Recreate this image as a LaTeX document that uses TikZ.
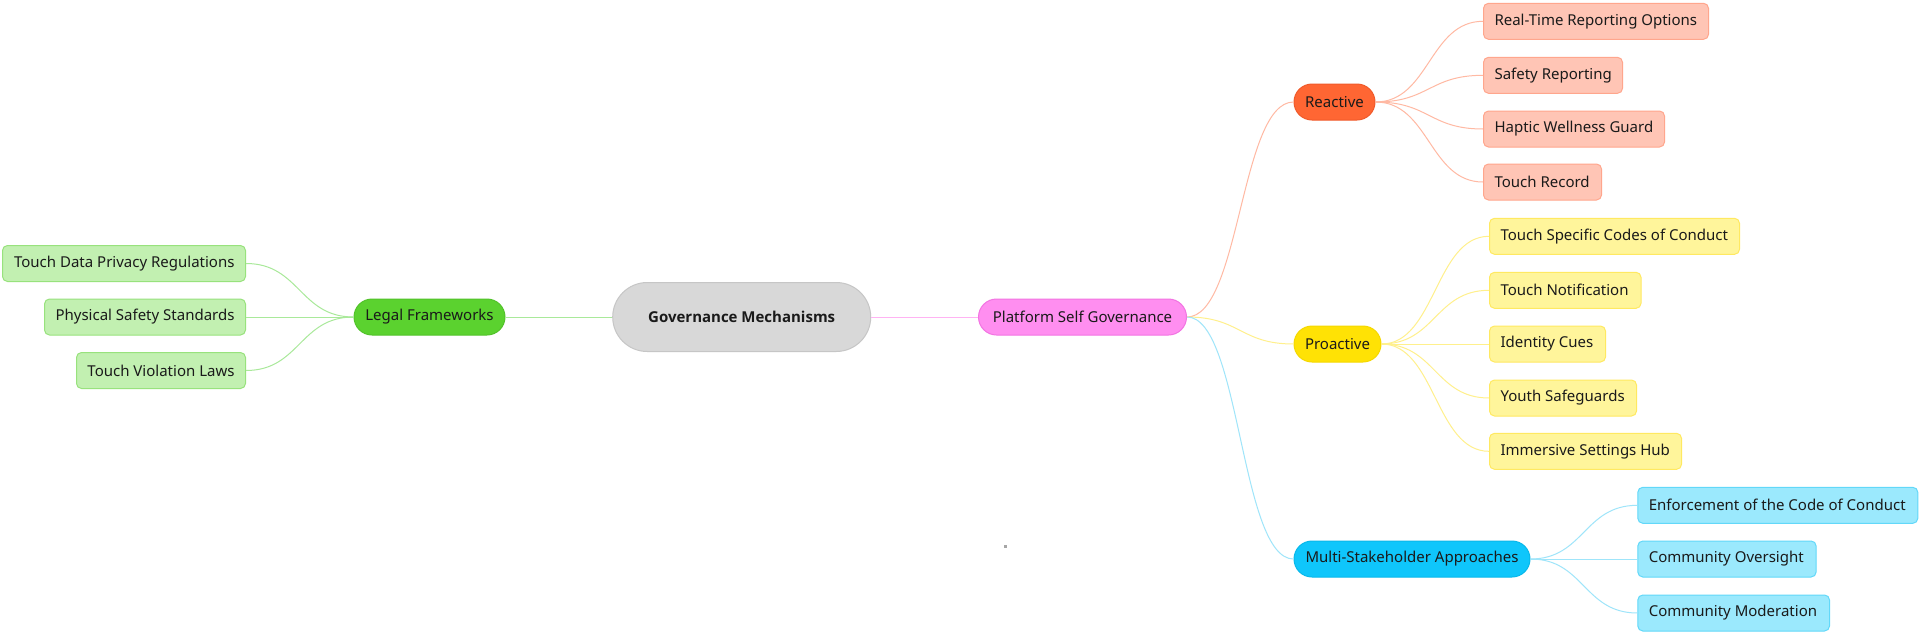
\documentclass[tikz,border=0pt]{standalone}
\usepackage{fontspec}
\setmainfont{Noto Sans}
\newfontfamily\gmfont{Open Sans}
\usetikzlibrary{calc}
\definecolor{txt}{HTML}{1A1A1A}
\definecolor{legalF}{HTML}{5BD22F}\definecolor{legalB}{HTML}{52C22A}
\definecolor{legalLF}{HTML}{C2F0B1}\definecolor{legalLB}{HTML}{98E27D}\definecolor{legalE}{HTML}{A9E99A}
\definecolor{centF}{HTML}{D8D8D8}\definecolor{centB}{HTML}{C6C6C6}
\definecolor{platF}{HTML}{FF8EF0}\definecolor{platB}{HTML}{F274E2}\definecolor{platE}{HTML}{FFB3F3}
\definecolor{reacF}{HTML}{FF6633}\definecolor{reacB}{HTML}{F05A2A}
\definecolor{reacLF}{HTML}{FFC5B5}\definecolor{reacLB}{HTML}{FFA68D}\definecolor{reacE}{HTML}{FFB9A3}
\definecolor{proF}{HTML}{FFE205}\definecolor{proB}{HTML}{F5D800}
\definecolor{proLF}{HTML}{FFF59B}\definecolor{proLB}{HTML}{FFE961}\definecolor{proE}{HTML}{FFF08C}
\definecolor{mulF}{HTML}{0FC6FB}\definecolor{mulB}{HTML}{08B8EA}
\definecolor{mulLF}{HTML}{9BE9FD}\definecolor{mulLB}{HTML}{62D8F9}\definecolor{mulE}{HTML}{9FE5FA}
\newcommand\curveconn[3]{\draw[#1] let \p1=(#2), \p2=(#3) in (\p1) .. controls ({(\x1+\x2)/2},\y1) and ({(\x1+\x2)/2},\y2) .. (\p2);}
\newcommand\lbox[2]{\makebox[#1pt][l]{#2}}
\newcommand\rbox[2]{\makebox[#1pt][r]{#2}}
\begin{document}
\begin{tikzpicture}[x=1pt,y=-1pt,
  box/.style={draw, line width=1pt, rounded corners=5pt, minimum height=36pt, inner ysep=0pt, inner xsep=11pt, font=\fontsize{15}{18}\selectfont, text=txt},
  rleaf/.style={box, anchor=west},
  lleaf/.style={box, anchor=east},
  pill/.style={box, rounded corners=18pt, inner xsep=0pt, align=center},
  edge/.style={line width=1pt}]
\useasboundingbox (0,0) rectangle (1920,635);
\fill[white] (0,0) rectangle (1920,635);

% center
\node[pill, rounded corners=34.5pt, minimum width=258pt, minimum height=69pt, fill=centF, draw=centB, font=\gmfont\fontsize{15}{18}\selectfont\bfseries] (gm) at (741.7,317) {Governance Mechanisms};

% legal
\node[pill, minimum width=151pt, fill=legalF, draw=legalB] (lf) at (429.5,317) {Legal Frameworks};
\node[lleaf, fill=legalLF, draw=legalLB] (l1) at (246,263.5) {\rbox{221}{Touch Data Privacy Regulations}};
\node[lleaf, fill=legalLF, draw=legalLB] (l2) at (246,317) {\rbox{179}{Physical Safety Standards}};
\node[lleaf, fill=legalLF, draw=legalLB] (l3) at (246,370.5) {\rbox{147}{Touch Violation Laws}};

% platform
\node[pill, minimum width=208pt, fill=platF, draw=platB] (ps) at (1082.5,317) {Platform Self Governance};

% reactive
\node[pill, minimum width=81pt, fill=reacF, draw=reacB] (re) at (1334.5,102) {Reactive};
\node[rleaf, fill=reacLF, draw=reacLB] (r1) at (1483,21.3) {\lbox{203}{Real-Time Reporting Options}};
\node[rleaf, fill=reacLF, draw=reacLB] (r2) at (1483,75.3) {\lbox{117}{Safety Reporting}};
\node[rleaf, fill=reacLF, draw=reacLB] (r3) at (1483,129) {\lbox{159}{Haptic Wellness Guard}};
\node[rleaf, fill=reacLF, draw=reacLB] (r4) at (1483,182) {\lbox{96}{Touch Record}};

% proactive
\node[pill, minimum width=87pt, fill=proF, draw=proB] (pr) at (1337.5,344) {Proactive};
\node[rleaf, fill=proLF, draw=proLB] (p1) at (1489,236.3) {\lbox{228}{Touch Specific Codes of Conduct}};
\node[rleaf, fill=proLF, draw=proLB] (p2) at (1489,290.3) {\lbox{129.5}{Touch Notification}};
\node[rleaf, fill=proLF, draw=proLB] (p3) at (1489,344) {\lbox{94}{Identity Cues}};
\node[rleaf, fill=proLF, draw=proLB] (p4) at (1489,398) {\lbox{125}{Youth Safeguards}};
\node[rleaf, fill=proLF, draw=proLB] (p5) at (1489,451.3) {\lbox{170}{Immersive Settings Hub}};

% multi
\node[pill, minimum width=236pt, fill=mulF, draw=mulB] (ms) at (1412,559) {Multi-Stakeholder Approaches};
\node[rleaf, fill=mulLF, draw=mulLB] (m1) at (1637.3,505.3) {\lbox{258}{Enforcement of the Code of Conduct}};
\node[rleaf, fill=mulLF, draw=mulLB] (m2) at (1637.3,559) {\lbox{156.3}{Community Oversight}};
\node[rleaf, fill=mulLF, draw=mulLB] (m3) at (1637.3,613) {\lbox{169.7}{Community Moderation}};

% connectors
\draw[edge, draw=legalE] (gm.west) -- (lf.east);
\draw[edge, draw=platE] (gm.east) -- (ps.west);
\curveconn{edge, draw=legalE}{lf.west}{l1.east}
\curveconn{edge, draw=legalE}{lf.west}{l2.east}
\curveconn{edge, draw=legalE}{lf.west}{l3.east}
\curveconn{edge, draw=reacE}{ps.east}{re.west}
\curveconn{edge, draw=proE}{ps.east}{pr.west}
\curveconn{edge, draw=mulE}{ps.east}{ms.west}
\curveconn{edge, draw=reacE}{re.east}{r1.west}
\curveconn{edge, draw=reacE}{re.east}{r2.west}
\curveconn{edge, draw=reacE}{re.east}{r3.west}
\curveconn{edge, draw=reacE}{re.east}{r4.west}
\curveconn{edge, draw=proE}{pr.east}{p1.west}
\curveconn{edge, draw=proE}{pr.east}{p2.west}
\curveconn{edge, draw=proE}{pr.east}{p3.west}
\curveconn{edge, draw=proE}{pr.east}{p4.west}
\curveconn{edge, draw=proE}{pr.east}{p5.west}
\curveconn{edge, draw=mulE}{ms.east}{m1.west}
\curveconn{edge, draw=mulE}{ms.east}{m2.west}
\curveconn{edge, draw=mulE}{ms.east}{m3.west}

% tiny dot
\fill[gray!70] (1004,545) rectangle (1007,548);
\end{tikzpicture}
\end{document}
